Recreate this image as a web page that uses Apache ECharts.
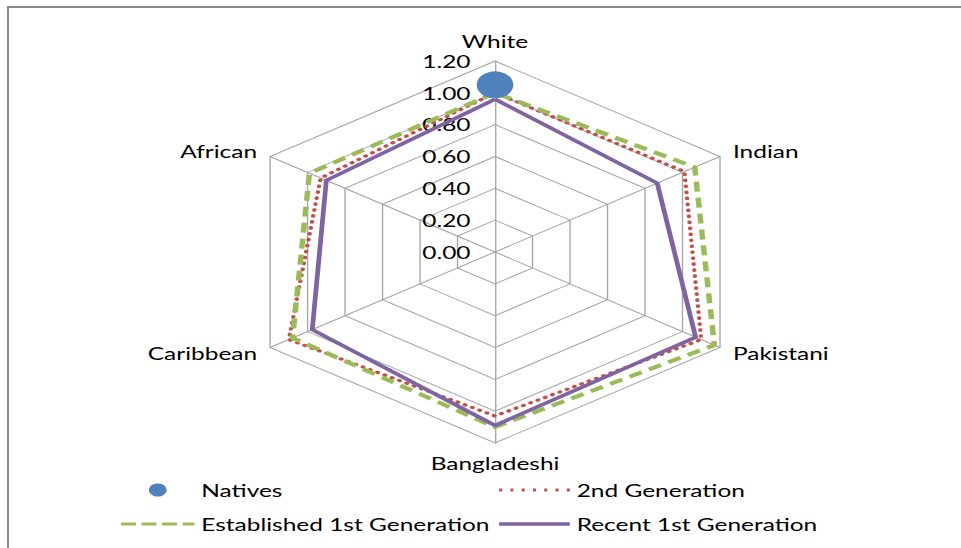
<!DOCTYPE html>
<html>
<head>
<meta charset="utf-8">
<script src="https://cdn.jsdelivr.net/npm/echarts@6/dist/echarts.min.js"></script>
<style>
    html, body { margin: 0; padding: 0; background: #fff; overflow: hidden; }
    #frame { position: absolute; left: 7px; top: 6px; width: 970px; height: 560px;
             border-left: 2px solid #8c8c8c; border-top: 2px solid #8c8c8c; }
    /* the original picture is stretched sideways, so the chart is too */
    #main { position: absolute; left: 0; top: 0; width: 707px; height: 548px;
            transform: scaleX(1.36); transform-origin: 0 0; }
</style>
</head>
<body>
<div id="frame"></div>
<div id="main"></div>
<script>
// indicators in counter-clockwise order, starting from the top
var groups = ['White', 'African', 'Caribbean', 'Bangladeshi', 'Pakistani', 'Indian'];
var natives = [1.05];   // only given for White
var secondGen = [1.00, 0.93, 1.10, 1.03, 1.10, 1.01];
var establishedGen = [1.00, 0.99, 1.08, 1.10, 1.17, 1.065];
var recentGen = [0.96, 0.90, 0.975, 1.09, 1.07, 0.865];
var axisMax = 1.2;

var cx = 364, cy = 252, R = 191;
var font = 'Lato';

var chart = echarts.init(document.getElementById('main'), null, { renderer: 'svg' });

var option = {
    animation: false,
    radar: {
        center: [cx, cy],
        radius: R,
        shape: 'polygon',
        splitNumber: 6,
        nameGap: 11,
        axisName: { color: '#000', fontSize: 18, fontFamily: font },
        axisLine: { lineStyle: { color: '#a6a6a6', width: 1 } },
        splitLine: { lineStyle: { color: '#a6a6a6', width: 1 } },
        splitArea: { show: false },
        axisTick: { show: false },
        axisLabel: {
            show: true, color: '#000', fontSize: 18, fontFamily: font, margin: 18,
            formatter: function (v) { return v.toFixed(2); }
        },
        indicator: groups.map(function (g, i) {
            return { name: g, min: 0, max: axisMax, axisLabel: { show: i === 0 } };
        })
    },
    // hidden grid lined up with the White axis, for the single Natives point
    grid: { left: cx - 50, width: 100, top: cy - R, height: R },
    xAxis: { type: 'category', data: ['White'], show: false },
    yAxis: { type: 'value', min: 0, max: axisMax, show: false },
    legend: [{
        orient: 'vertical', left: 84, top: 476, itemWidth: 54, itemHeight: 13, itemGap: 16,
        symbolKeepAspect: true,
        textStyle: { color: '#000', fontSize: 18, fontFamily: font },
        data: [
            { name: 'Natives', icon: 'circle', itemStyle: { color: '#4f81bd', opacity: 1 } },
            { name: 'Established 1st Generation', itemStyle: { color: '#9bbb59' },
              icon: 'path://M0,0h10.6v3h-10.6z M14.6,0h10.6v3h-10.6z M29.2,0h10.6v3h-10.6z M43.8,0h8.5v3h-8.5z' }
        ]
    }, {
        orient: 'vertical', left: 362, top: 476, itemWidth: 52, itemHeight: 13, itemGap: 16,
        symbolKeepAspect: true,
        textStyle: { color: '#000', fontSize: 18, fontFamily: font },
        data: [
            { name: '2nd Generation', itemStyle: { color: '#c0504d' },
              icon: 'path://M0,0h2.2v3h-2.2z M8.3,0h2.2v3h-2.2z M16.6,0h2.2v3h-2.2z M24.9,0h2.2v3h-2.2z M33.2,0h2.2v3h-2.2z M41.5,0h2.2v3h-2.2z M49.8,0h2.2v3h-2.2z' },
            { name: 'Recent 1st Generation', itemStyle: { color: '#8064a2' },
              icon: 'path://M0,0h52v3.4h-52z' }
        ]
    }],
    series: [
        {
            name: 'Natives',
            type: 'scatter',
            z: 5,
            symbolSize: 27,
            itemStyle: { color: '#4f81bd', opacity: 1 },
            data: natives
        },
        {
            name: 'radar',
            type: 'radar',
            symbol: 'none',
            data: [
                {
                    name: '2nd Generation', value: secondGen,
                    lineStyle: { color: '#c0504d', width: 3.2, type: [0.5, 5.5], cap: 'round' }
                },
                {
                    name: 'Established 1st Generation', value: establishedGen,
                    lineStyle: { color: '#9bbb59', width: 4, type: [10, 6] }
                },
                {
                    name: 'Recent 1st Generation', value: recentGen,
                    lineStyle: { color: '#8064a2', width: 3.5, type: 'solid' }
                }
            ]
        }
    ]
};

chart.setOption(option);
</script>
</body>
</html>
